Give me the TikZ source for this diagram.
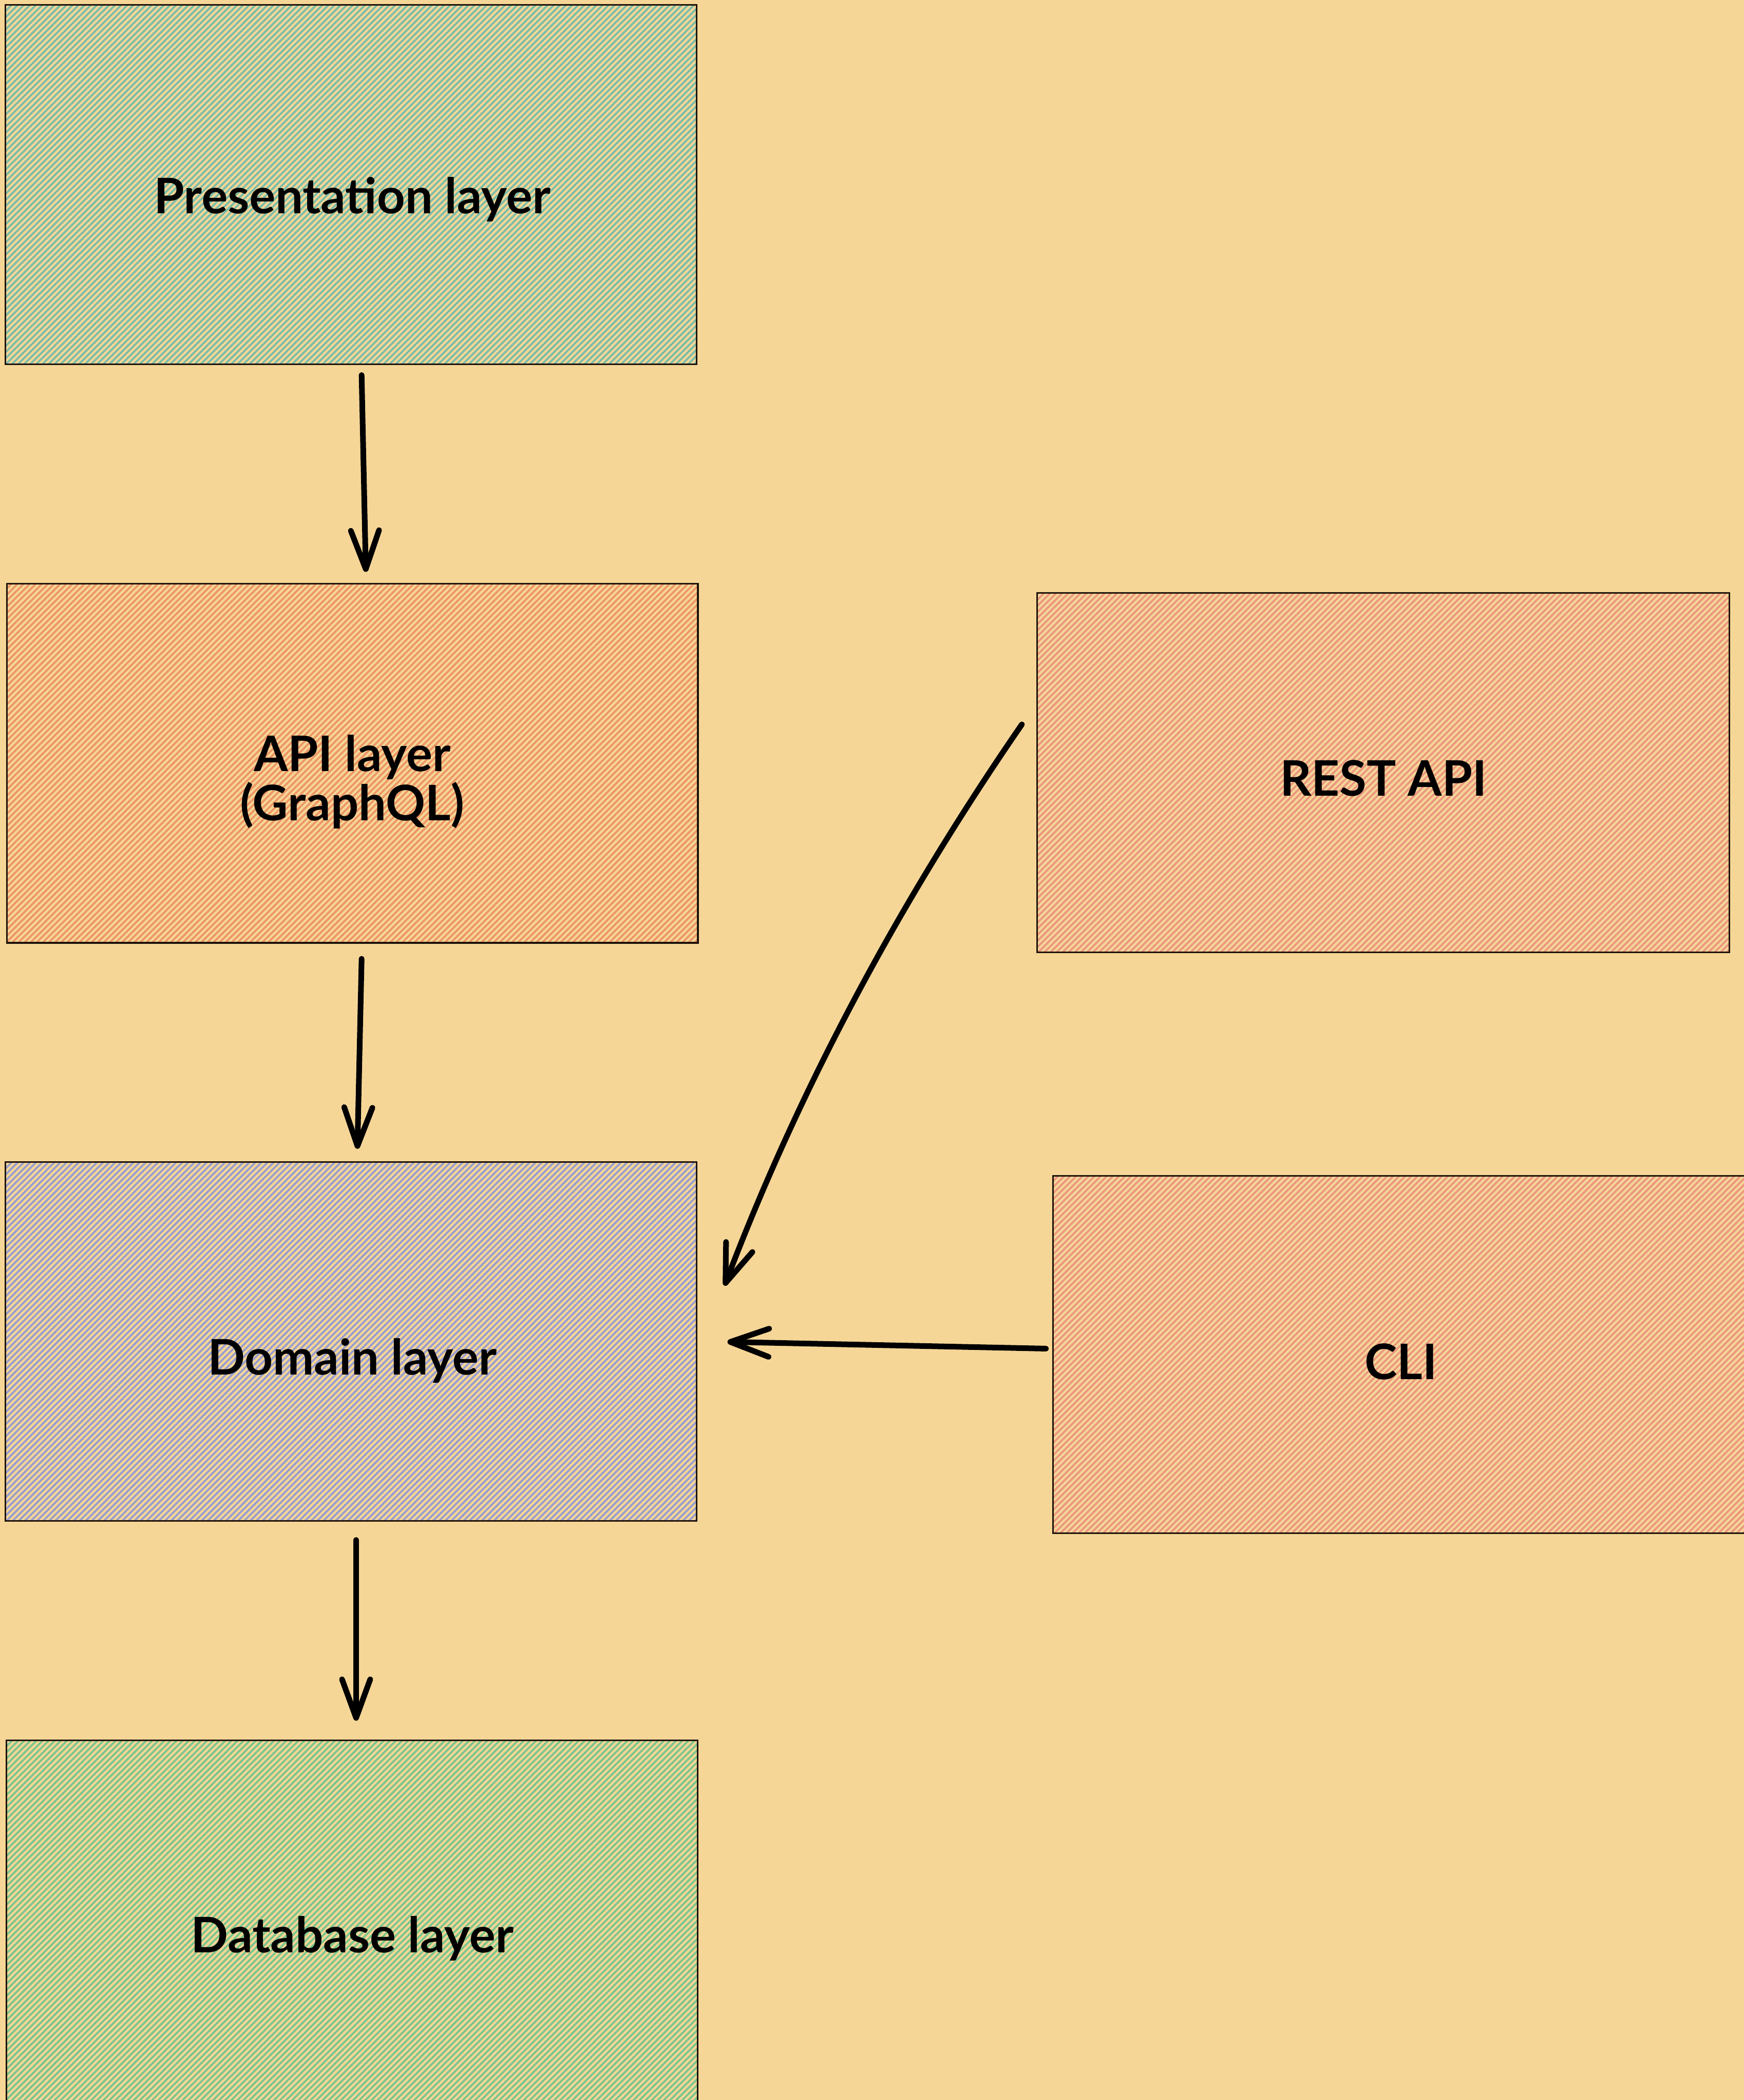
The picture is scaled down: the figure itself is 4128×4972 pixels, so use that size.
\documentclass[tikz,border=0pt]{standalone}
\usepackage{fontspec}
\setmainfont{Lato}
\usetikzlibrary{arrows.meta,patterns.meta}
\definecolor{bgc}{HTML}{F5D697}
\definecolor{presc}{HTML}{78BCA8}
\definecolor{apic}{HTML}{EE9464}
\definecolor{domc}{HTML}{979CCF}
\definecolor{dbc}{HTML}{78C58C}
\definecolor{restc}{HTML}{EB957F}
\tikzset{
  layerbox/.style={draw=black!85!brown, line width=1.1pt, rectangle, inner sep=0pt,
    minimum width=16.35cm, minimum height=8.5cm},
  boxtext/.style={align=center, inner sep=0pt, font=\fontsize{33}{33}\selectfont\bfseries},
  hatch/.style={pattern={Lines[angle=45,distance=2.9pt,line width=1.3pt]}, pattern color=#1},
  conn/.style={line width=3.8pt, line cap=round, black,
    -{Straight Barb[length=26pt,width=19pt,round]}}
}
\begin{document}
\begin{tikzpicture}[x=0.01cm,y=-0.01cm]
\fill[bgc] (0,0) rectangle (4128,4972);
\useasboundingbox (0,0) rectangle (4128,4972);
% boxes
\node[layerbox, hatch=presc] (pres) at (831,437) {};
\node[layerbox, hatch=apic] (api) at (834,1807) {};
\node[layerbox, hatch=domc] (dom) at (831,3176) {};
\node[layerbox, hatch=dbc, minimum height=8.6cm] (db) at (833,4551) {};
\node[layerbox, hatch=restc, minimum width=16.38cm] (rest) at (3274,1829) {};
\node[layerbox, hatch=restc, minimum width=16.5cm, minimum height=8.46cm] (cli) at (3318,3207) {};
% texts
\node[boxtext] (prest) at (834,472) {Presentation layer};
\node[boxtext] (apit) at (834,1851) {API layer\\(GraphQL)};
\node[boxtext] (restt) at (3275,1843) {REST API};
\node[boxtext] (domt) at (834,3221) {Domain layer};
\node[boxtext] (clit) at (3316,3224) {CLI};
\node[boxtext] (dbt) at (834,4590) {Database layer};
% connector ends
\coordinate (a1s) at (856,888);  \coordinate (a1e) at (866,1354);
\coordinate (a2s) at (856,2270); \coordinate (a2e) at (846,2720);
\coordinate (a3s) at (843,3646); \coordinate (a3e) at (843,4074);
\coordinate (rs) at (2419,1715); \coordinate (re) at (1715,3044);
\coordinate (cs) at (2476,3193); \coordinate (ce) at (1722,3177);
\draw[conn] (a1s) -- (a1e);
\draw[conn] (a2s) -- (a2e);
\draw[conn] (a3s) -- (a3e);
\draw[conn] (rs) .. controls (2124,2143) and (1890,2584) .. (re);
\draw[conn] (cs) -- (ce);
\end{tikzpicture}
\end{document}
